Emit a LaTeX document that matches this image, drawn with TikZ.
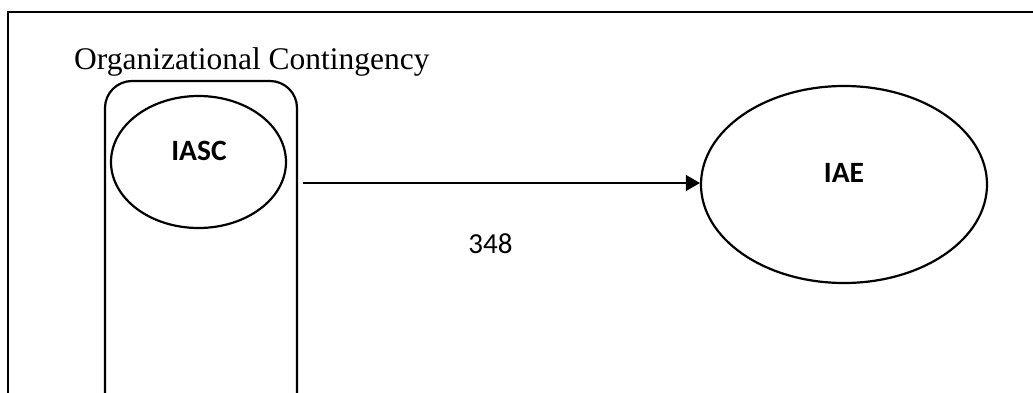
\documentclass[tikz,border=0pt]{standalone}
\usepackage{fontspec}
\setmainfont{Liberation Serif}
\newfontfamily\labelfont{Carlito}
\usetikzlibrary{shapes.geometric,arrows.meta}

\tikzset{
  frameline/.style={line width=2.6pt, line cap=rect},
  construct/.style={ellipse, draw, line width=2.2pt, inner sep=0pt},
  container/.style={draw, line width=2.2pt, rounded corners=27pt, inner sep=0pt},
  varlabel/.style={font=\labelfont\bfseries\fontsize{29.5}{34}\selectfont, inner sep=0pt},
  pathlabel/.style={font=\labelfont\fontsize{29}{34}\selectfont, inner sep=0pt},
  effect/.style={line width=1.1pt, -{Triangle[length=14pt,width=16pt]}},
}

\begin{document}
\begin{tikzpicture}[x=1pt, y=-1pt]
  \useasboundingbox (0,0) rectangle (1033,393);
  \clip (0,0) rectangle (1033,393);

  % outer frame (left and top edges)
  \draw[frameline] (8,400) -- (8,12) -- (1040,12);

  % moderator heading
  \node[anchor=base west, inner sep=0pt, font=\fontsize{31.5}{37}\selectfont]
    (title) at (74,70) {Organizational Contingency};

  % contingency container
  \node[container, minimum width=192pt, minimum height=340pt]
    (box) at (201,251) {};

  % constructs
  \node[construct, minimum width=175pt, minimum height=132pt] (iasc) at (198.5,162) {};
  \node[varlabel] (iasctext) at (199,151) {IASC};

  \node[construct, minimum width=286pt, minimum height=197pt] (iae) at (844,184.5) {};
  \node[varlabel] (iaetext) at (844,172.5) {IAE};

  % path and its sample size
  \coordinate (start) at (303,183);
  \draw[effect] (start) -- (start -| iae.west);
  \node[pathlabel] (n) at (490.5,243.5) {348};
\end{tikzpicture}
\end{document}
